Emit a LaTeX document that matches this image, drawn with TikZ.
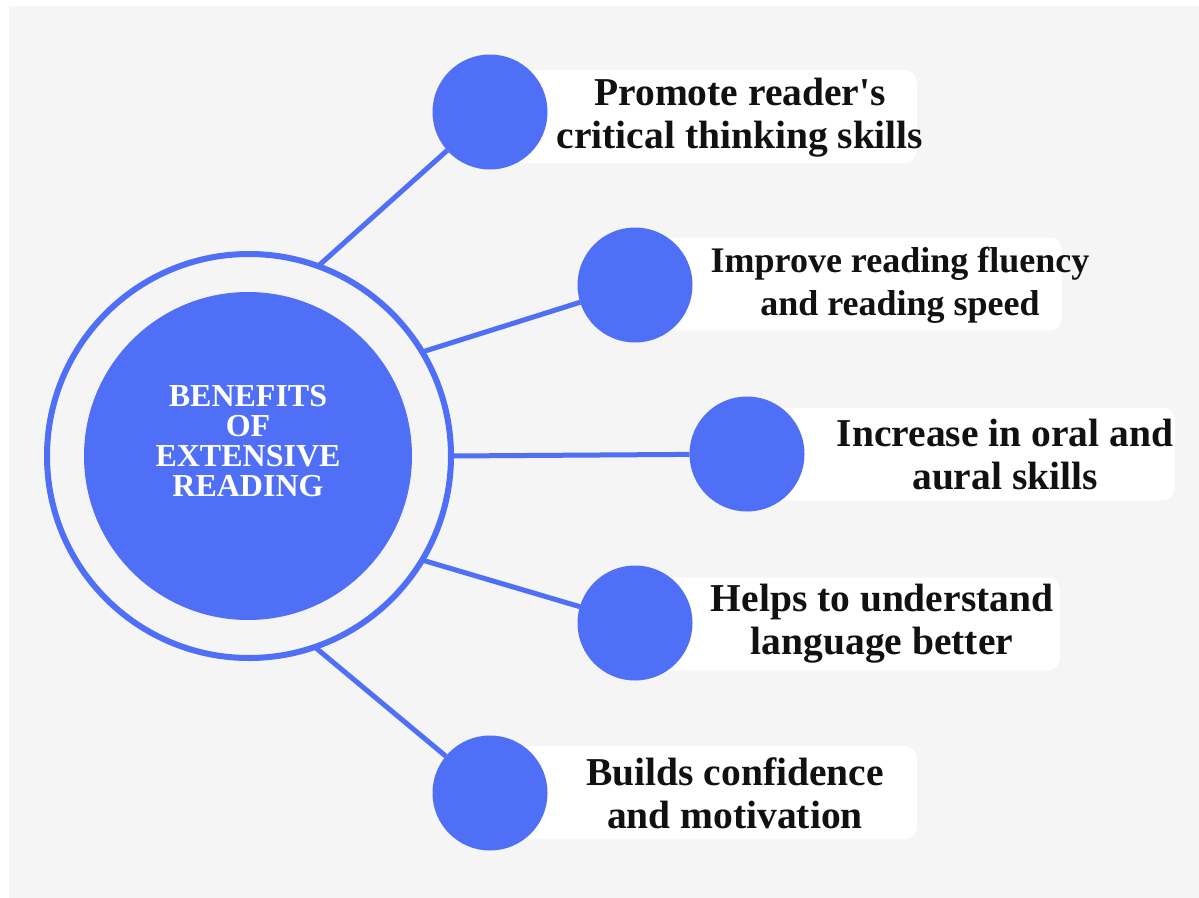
\documentclass[tikz,border=0pt]{standalone}
\usepackage{fontspec}
\setmainfont{Liberation Serif}[Ligatures=TeXOff]
\usetikzlibrary{calc}
\definecolor{mainblue}{HTML}{4F6FF6}
\definecolor{bggrey}{HTML}{F5F5F5}
\definecolor{ink}{HTML}{111111}
\begin{document}
\begin{tikzpicture}[x=1pt,y=-1pt,
  ringstyle/.style={circle, draw=mainblue, line width=6pt, minimum size=404pt, inner sep=0pt, outer sep=0pt},
  hub/.style={circle, fill=mainblue, minimum size=328pt, inner sep=0pt, outer sep=0pt},
  sat/.style={circle, fill=mainblue, minimum size=115pt, inner sep=0pt, outer sep=0pt},
  link/.style={draw=mainblue, line width=5pt},
  card/.style={fill=white, rounded corners=12pt, inner sep=0pt, anchor=east, minimum height=93pt},
  itemtext/.style={font=\bfseries\fontsize{39.5}{43}\selectfont, text=ink, align=center, inner sep=0pt},
  itemtextsmall/.style={font=\bfseries\fontsize{36}{43}\selectfont, text=ink, align=center, inner sep=0pt},
  hubtext/.style={font=\bfseries\fontsize{32}{30}\selectfont, text=white, align=center, inner sep=0pt}
]
\useasboundingbox (0,0) rectangle (1199,897);
\fill[white] (0,0) rectangle (1199,897);
\fill[bggrey] (9,6) rectangle (1200,898);

% cards
\node[card, minimum width=427pt] (c1) at (917,116.5) {};
\node[card, minimum width=427pt] (c2) at (1062,284) {};
\node[card, minimum width=428pt] (c3) at (1175,454) {};
\node[card, minimum width=425pt] (c4) at (1060,624) {};
\node[card, minimum width=427pt] (c5) at (917,792.5) {};

% satellites
\node[sat] (s1) at (490,112) {};
\node[sat] (s2) at (635,285) {};
\node[sat] (s3) at (747,454) {};
\node[sat] (s4) at (635,623) {};
\node[sat] (s5) at (490,793) {};

% hub
\node[ringstyle] (ring) at (249,456) {};
\node[hub] (hub) at (248,456) {};

% links
\draw[link] (ring.70) -- (s1);
\draw[link] (ring.31) -- (s2);
\draw[link] (ring.0) -- (s3);
\draw[link] (ring.-31) -- (s4);
\draw[link] (ring.-71) -- (s5);

% texts
\node[hubtext] (title) at (248,441) {BENEFITS\\OF\\EXTENSIVE\\READING};
\node[itemtext] (t1) at (740,118) {Promote reader's\\critical thinking skills};
\node[itemtextsmall] (t2) at (900,285) {Improve reading fluency\\and reading speed};
\node[itemtext] (t3) at (1005,455) {Increase in oral and\\aural skills};
\node[itemtext] (t4) at (882,624) {Helps to understand\\language better};
\node[itemtext] (t5) at (735,793) {Builds confidence\\and motivation};
\end{tikzpicture}
\end{document}
